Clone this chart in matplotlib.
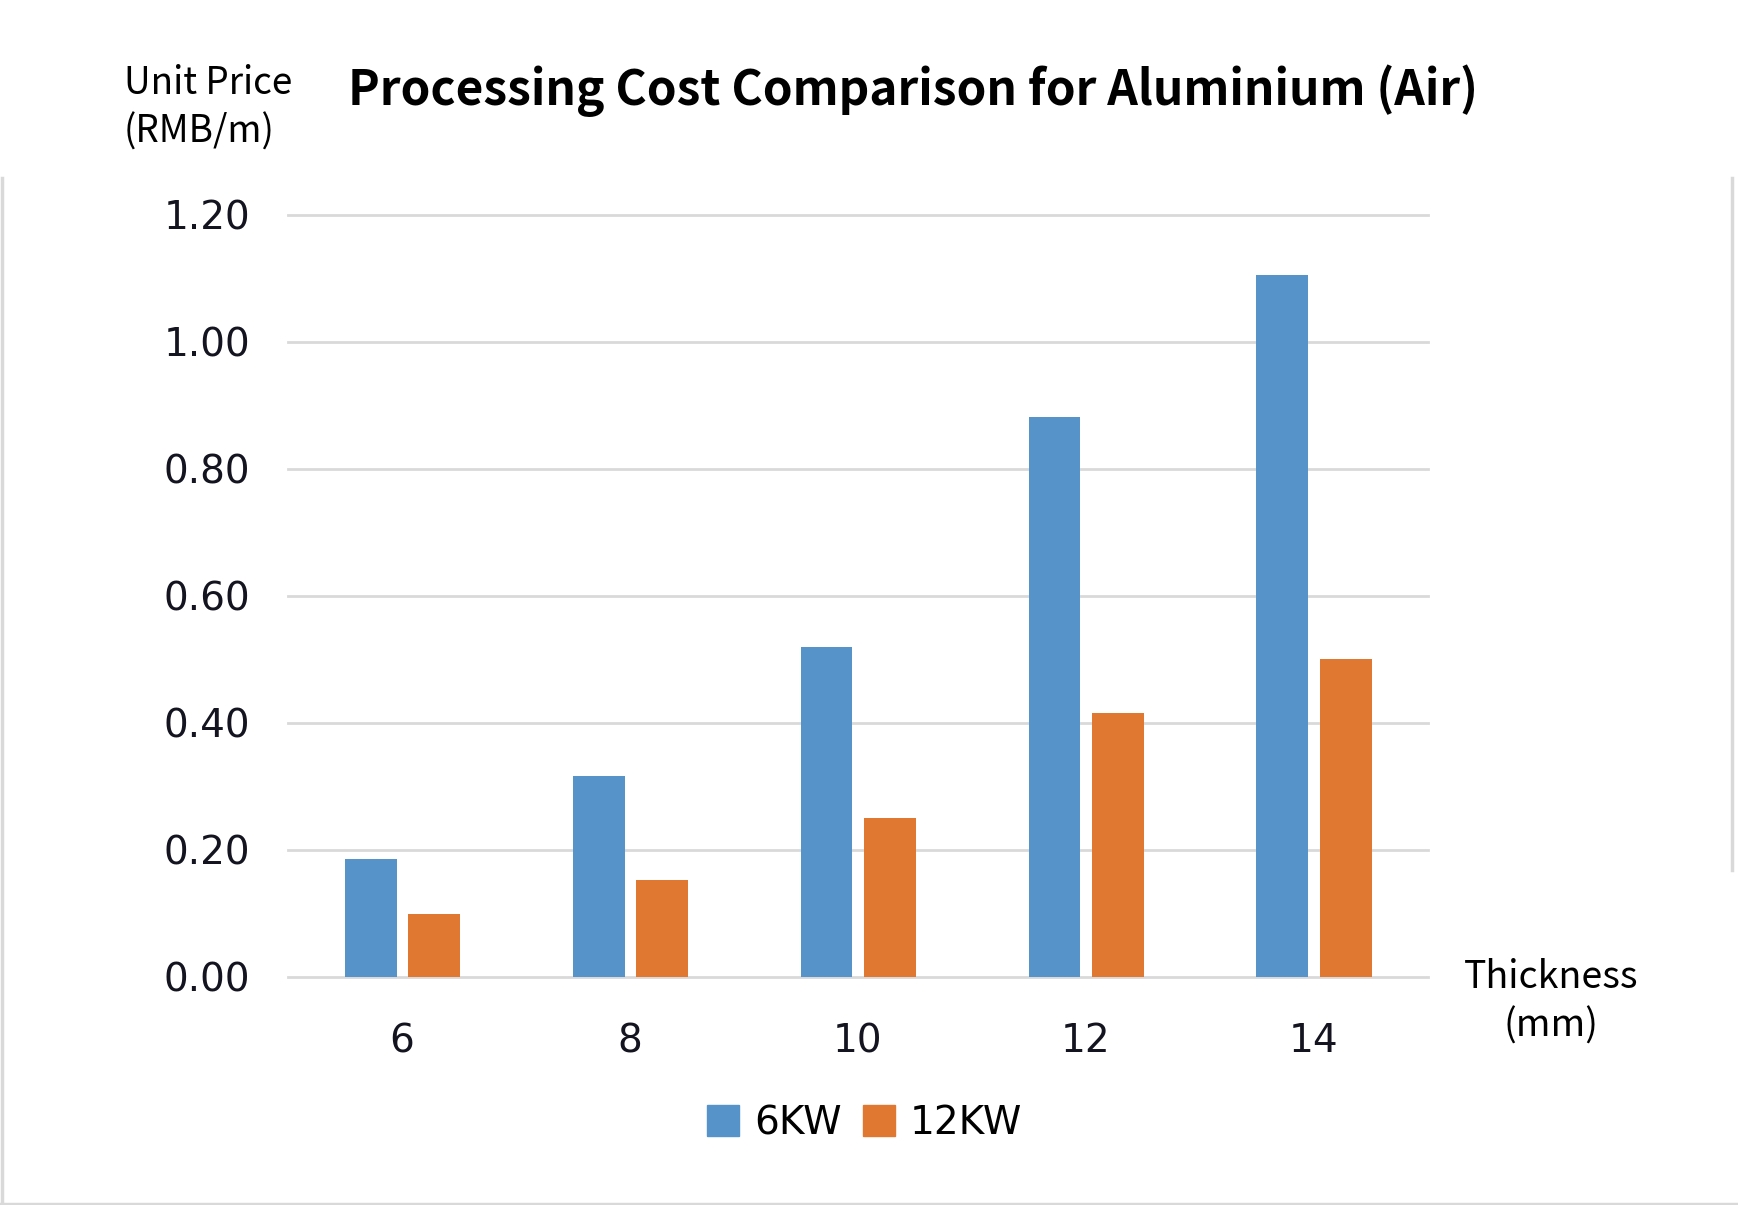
import numpy as np
import matplotlib
matplotlib.use("Agg")
import matplotlib.pyplot as plt
from matplotlib.lines import Line2D
from matplotlib.patches import Patch

# Data
thickness = ["6", "8", "10", "12", "14"]
price_6kw = [0.185, 0.316, 0.52, 0.882, 1.106]
price_12kw = [0.098, 0.152, 0.25, 0.415, 0.501]
y_ticks = [0.0, 0.2, 0.4, 0.6, 0.8, 1.0, 1.2]

blue = "#5593c8"
orange = "#e17832"
grid_col = "#d9d9d9"
tick_font = ["DejaVu Sans"]
cjk = ["Noto Sans CJK SC", "DejaVu Sans"]

fig = plt.figure(figsize=(17.38, 12.05), dpi=100)
ax = fig.add_axes([0.1657, 0.1896, 0.6559, 0.632])

x = np.arange(len(thickness))
w = 0.228
ax.bar(x - 0.138, price_6kw, width=w, color=blue, zorder=3)
ax.bar(x + 0.14, price_12kw, width=w, color=orange, zorder=3)

ax.set_xlim(-0.5, len(thickness) - 0.5)
ax.set_ylim(0, 1.2)
ax.set_yticks(y_ticks)
ax.set_yticklabels([f"{v:.2f}" for v in y_ticks], fontsize=28,
                   family=tick_font, color="#141420")
ax.set_xticks(x)
ax.set_xticklabels(thickness, fontsize=28, family=tick_font, color="#141420")
ax.tick_params(axis="y", length=0, pad=27)
ax.tick_params(axis="x", length=0, pad=33)
for s in ax.spines.values():
    s.set_visible(False)
for v in y_ticks:
    ax.axhline(v, color=grid_col, linewidth=2.0, zorder=1, clip_on=False)

# Titles / axis captions
fig.text(0.5253, 0.9129, "Processing Cost Comparison for Aluminium (Air)",
         ha="center", va="baseline", fontsize=34.4, fontweight="bold", family=cjk)
fig.text(0.0713, 0.922, "Unit Price", ha="left", va="baseline",
         fontsize=26.5, fontweight="light", family=cjk)
fig.text(0.0713, 0.8813, "(RMB/m)", ha="left", va="baseline",
         fontsize=26.5, fontweight="light", family=cjk)
fig.text(0.8924, 0.1801, "Thickness", ha="center", va="baseline",
         fontsize=27, fontweight="light", family=cjk)
fig.text(0.8924, 0.1394, "(mm)", ha="center", va="baseline",
         fontsize=27, fontweight="light", family=cjk)

# Legend
handles = [Patch(color=blue, label="6KW"), Patch(color=orange, label="12KW")]
fig.legend(handles=handles, loc="center", bbox_to_anchor=(0.4975, 0.068),
           ncol=2, frameon=False, handlelength=0.82, handleheight=0.82,
           handletextpad=0.38, columnspacing=0.55,
           prop={"family": tick_font, "size": 28})

# Light border of the chart area
top_y = 1 - 178 / 1205
for xs, ys in [([0.0012, 0.0012], [0, top_y]),
               ([0, 1], [0.0012, 0.0012]),
               ([0.9965, 0.9965], [1 - 870 / 1205, top_y])]:
    fig.add_artist(Line2D(xs, ys, color=grid_col, linewidth=2.5,
                          transform=fig.transFigure))

fig.savefig("out.png", dpi=100, facecolor="white")
